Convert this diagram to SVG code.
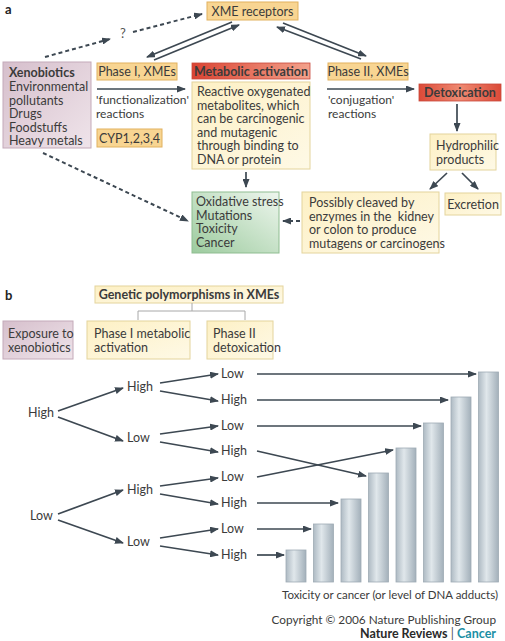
<svg xmlns="http://www.w3.org/2000/svg" width="505" height="641" viewBox="0 0 505 641">
<defs>
<style>
text{font-family:Lato,"Open Sans","Liberation Sans",sans-serif;font-size:12.5px;fill:#3b3b3b}
.b{font-weight:bold}
.lab{font-weight:bold;font-size:13px;fill:#222}
.s12{font-size:12px}
.cap{font-size:11.2px}
.copy{font-size:11.8px}
.q{font-size:13px;fill:#555}
.tan{fill:#f8d592;stroke:#e1b15f;stroke-width:1}
.yel{fill:url(#gy);stroke:#e4d49c;stroke-width:1}
.pink{fill:url(#gp);stroke:#c4aab9;stroke-width:1}
.red{stroke:#c9483a;stroke-width:0.8}
.arr{stroke:#3d4852;stroke-width:1.7;fill:none;marker-end:url(#ah)}
.dash{stroke:#3d4852;stroke-width:2;fill:none;stroke-dasharray:4 3;marker-end:url(#ah)}
.ln{stroke:#a8a8a8;stroke-width:1;fill:none}
.bar{fill:url(#gb);stroke:#9eabb4;stroke-width:0.8}
</style>
<marker id="ah" markerWidth="9" markerHeight="7" refX="8" refY="3.5" orient="auto" markerUnits="userSpaceOnUse">
<path d="M0,0 L9,3.5 L0,7 z" fill="#3d4852"/>
</marker>
<linearGradient id="gy" x1="0" y1="0" x2="1" y2="1">
<stop offset="0" stop-color="#fdf0c4"/><stop offset="1" stop-color="#fef9e6"/>
</linearGradient>
<linearGradient id="gp" x1="0" y1="0" x2="1" y2="1">
<stop offset="0" stop-color="#d6bfcc"/><stop offset="1" stop-color="#efe4ea"/>
</linearGradient>
<linearGradient id="gr1" x1="0" y1="0" x2="1" y2="0">
<stop offset="0" stop-color="#da4433"/><stop offset="1" stop-color="#f3a28c"/>
</linearGradient>
<linearGradient id="gr2" x1="0" y1="0" x2="1" y2="0">
<stop offset="0" stop-color="#db4a38"/><stop offset="0.5" stop-color="#ef8a72"/><stop offset="1" stop-color="#db4a38"/>
</linearGradient>
<linearGradient id="gg" x1="1" y1="0" x2="0" y2="1">
<stop offset="0" stop-color="#eef6ee"/><stop offset="1" stop-color="#9ccb9e"/>
</linearGradient>
<linearGradient id="gb" x1="0" y1="0" x2="1" y2="0">
<stop offset="0" stop-color="#aebac3"/><stop offset="0.4" stop-color="#e0e7eb"/><stop offset="1" stop-color="#a3b0ba"/>
</linearGradient>
</defs>
<rect width="505" height="641" fill="#ffffff"/>

<text x="5" y="14" class="lab">a</text>
<text x="5" y="300" class="lab">b</text>

<g id="xme-receptors"><rect x="207" y="2" width="91" height="18" class="tan"/><text x="252.5" y="15.5" text-anchor="middle">XME receptors</text></g>

<g id="xenobiotics"><rect x="3" y="62" width="88" height="86" class="pink"/>
<text x="9" y="77" class="b" fill="#2e2e2e">Xenobiotics</text>
<text x="9" y="91">Environmental</text>
<text x="9" y="104.5">pollutants</text>
<text x="9" y="118">Drugs</text>
<text x="9" y="131.5">Foodstuffs</text>
<text x="9" y="145">Heavy metals</text></g>

<g id="phase1-xmes"><rect x="97" y="63" width="80" height="17" class="tan"/><text x="137" y="76" text-anchor="middle">Phase I, XMEs</text></g>
<g id="functionalization"><text x="96" y="103.5" class="s12">'functionalization'</text><text x="96" y="118" class="s12">reactions</text></g>
<g id="cyp"><rect x="97" y="129" width="65" height="18" class="tan"/><text x="129.5" y="142.5" text-anchor="middle">CYP1,2,3,4</text></g>

<g id="metabolic-activation"><rect x="192" y="63" width="118" height="16" fill="url(#gr1)" class="red"/><text x="251" y="75.5" text-anchor="middle" class="b" fill="#2a2a2a">Metabolic activation</text></g>
<g id="reactive-metabolites"><rect x="192" y="82" width="118" height="87" class="yel"/>
<text x="197" y="96">Reactive oxygenated</text>
<text x="197" y="109.5">metabolites, which</text>
<text x="197" y="123">can be carcinogenic</text>
<text x="197" y="136.5">and mutagenic</text>
<text x="197" y="150">through binding to</text>
<text x="197" y="163.5">DNA or protein</text></g>

<g id="phase2-xmes"><rect x="328" y="63" width="80" height="17" class="tan"/><text x="368" y="76" text-anchor="middle">Phase II, XMEs</text></g>
<g id="conjugation"><text x="328" y="103.5" class="s12">'conjugation'</text><text x="328" y="118" class="s12">reactions</text></g>

<g id="detoxication"><rect x="419" y="84" width="82" height="17" fill="url(#gr2)" class="red"/><text x="460" y="97" text-anchor="middle" class="b" fill="#2a2a2a">Detoxication</text></g>

<g id="hydrophilic"><rect x="430" y="134" width="66" height="36" class="yel"/><text x="436" y="149.5">Hydrophilic</text><text x="436" y="163.5">products</text></g>
<g id="excretion"><rect x="445" y="193" width="56" height="22" class="yel"/><text x="473" y="208.5" text-anchor="middle">Excretion</text></g>
<g id="possibly-cleaved"><rect x="302" y="192" width="137" height="61" class="yel"/>
<text x="309" y="207">Possibly cleaved by</text>
<text x="309" y="220.5" xml:space="preserve">enzymes in the  kidney</text>
<text x="309" y="234">or colon to produce</text>
<text x="309" y="247.5">mutagens or carcinogens</text></g>

<g id="outcomes"><rect x="192" y="192" width="87" height="61" fill="url(#gg)" stroke="#8fbd91" stroke-width="1"/>
<text x="196" y="206">Oxidative stress</text>
<text x="196" y="219.5">Mutations</text>
<text x="196" y="233">Toxicity</text>
<text x="196" y="246.5">Cancer</text></g>

<g id="connectors-a">
<line x1="45" y1="57" x2="110" y2="39" class="dash"/>
<text x="123" y="38" text-anchor="middle" class="q">?</text>
<line x1="133" y1="32" x2="202" y2="14" class="dash"/>
<line x1="232" y1="22" x2="147" y2="57" class="arr"/>
<line x1="154" y1="60" x2="239" y2="25" class="arr"/>
<line x1="283" y1="23" x2="366" y2="56" class="arr"/>
<line x1="361" y1="59" x2="277" y2="27" class="arr"/>
<line x1="97" y1="89" x2="185" y2="89" class="arr"/>
<line x1="327" y1="89" x2="414" y2="89" class="arr"/>
<line x1="457" y1="104" x2="457" y2="131" class="arr"/>
<line x1="447" y1="173" x2="430" y2="189" class="arr"/>
<line x1="462" y1="173" x2="478" y2="189" class="arr"/>
<line x1="246" y1="172" x2="246" y2="187" class="arr"/>
<line x1="300" y1="221" x2="283" y2="221" class="dash"/>
<line x1="43" y1="153" x2="188" y2="221" class="dash"/>
</g>

<g id="genetic-polymorphisms"><rect x="95" y="286" width="188" height="17" class="yel"/><text x="189" y="299" text-anchor="middle" class="b" fill="#2e2e2e">Genetic polymorphisms in XMEs</text></g>
<g id="exposure"><rect x="3" y="321" width="70" height="38" class="pink"/><text x="8" y="338">Exposure to</text><text x="8" y="352">xenobiotics</text></g>
<g id="phase1-activation"><rect x="87" y="321" width="103" height="38" class="yel"/><text x="94" y="338">Phase I metabolic</text><text x="94" y="352">activation</text></g>
<g id="phase2-detox"><rect x="207" y="321" width="66" height="38" class="yel"/><text x="213" y="338">Phase II</text><text x="213" y="352">detoxication</text></g>

<g id="bracket"><path d="M192,303 V311 M138,320 V311 H245 V320" class="ln"/></g>

<g id="tree-labels">
<text x="28" y="417">High</text>
<text x="30" y="520">Low</text>
<text x="127" y="391">High</text>
<text x="127" y="442">Low</text>
<text x="127" y="494">High</text>
<text x="127" y="546">Low</text>
<text x="221" y="378">Low</text>
<text x="221" y="404">High</text>
<text x="221" y="430">Low</text>
<text x="221" y="455">High</text>
<text x="221" y="481">Low</text>
<text x="221" y="507">High</text>
<text x="221" y="533">Low</text>
<text x="221" y="559">High</text>
</g>

<g id="bars">
<rect x="286" y="550" width="20" height="32" class="bar"/>
<rect x="313.5" y="524" width="20" height="58" class="bar"/>
<rect x="341" y="499" width="20" height="83" class="bar"/>
<rect x="368.5" y="473" width="20" height="109" class="bar"/>
<rect x="396" y="448" width="20" height="134" class="bar"/>
<rect x="423.5" y="423" width="20" height="159" class="bar"/>
<rect x="451" y="397" width="20" height="185" class="bar"/>
<rect x="478.5" y="372" width="20" height="210" class="bar"/>
</g>

<g id="connectors-b">
<line x1="58" y1="411" x2="123" y2="388" class="arr"/>
<line x1="58" y1="417" x2="123" y2="441" class="arr"/>
<line x1="58" y1="514" x2="123" y2="490" class="arr"/>
<line x1="58" y1="520" x2="123" y2="543" class="arr"/>
<line x1="160" y1="383" x2="218" y2="374" class="arr"/>
<line x1="160" y1="391" x2="218" y2="401" class="arr"/>
<line x1="160" y1="434" x2="218" y2="426" class="arr"/>
<line x1="160" y1="442" x2="218" y2="452" class="arr"/>
<line x1="160" y1="486" x2="218" y2="478" class="arr"/>
<line x1="160" y1="494" x2="218" y2="504" class="arr"/>
<line x1="160" y1="538" x2="218" y2="529" class="arr"/>
<line x1="160" y1="546" x2="218" y2="555" class="arr"/>
<line x1="257" y1="374" x2="476" y2="374" class="arr"/>
<line x1="257" y1="400" x2="448" y2="400" class="arr"/>
<line x1="257" y1="426" x2="421" y2="426" class="arr"/>
<line x1="257" y1="451" x2="366" y2="476" class="arr"/>
<line x1="257" y1="477" x2="393" y2="450" class="arr"/>
<line x1="257" y1="503" x2="338" y2="503" class="arr"/>
<line x1="257" y1="529" x2="311" y2="529" class="arr"/>
<line x1="257" y1="555" x2="284" y2="555" class="arr"/>
</g>

<g id="caption">
<text x="282" y="599" class="cap" textLength="216" lengthAdjust="spacingAndGlyphs">Toxicity or cancer (or level of DNA adducts)</text>
<text x="496" y="624" text-anchor="end" class="copy">Copyright © 2006 Nature Publishing Group</text>
<text x="496" y="638" text-anchor="end"><tspan class="b" fill="#2a2a2a">Nature Reviews</tspan><tspan fill="#555"> | </tspan><tspan class="b" fill="#1a8fa5">Cancer</tspan></text>
</g>
</svg>
